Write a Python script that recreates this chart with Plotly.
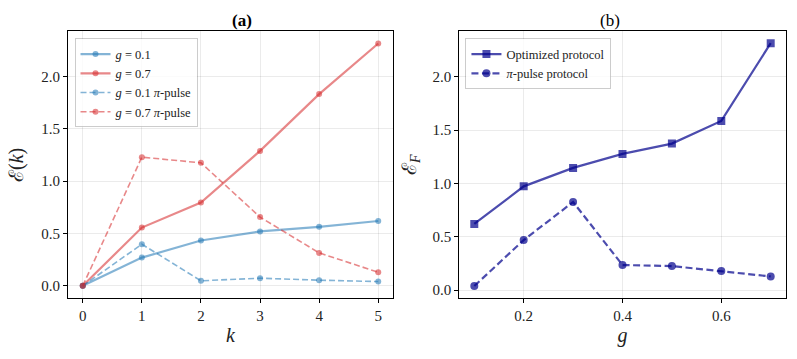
import plotly.graph_objects as go
from plotly.subplots import make_subplots

# panel (a): entanglement vs number of kicks
k = [0, 1, 2, 3, 4, 5]
e_g01 = [0.0, 0.27, 0.433, 0.52, 0.564, 0.62]
e_g07 = [0.0, 0.557, 0.797, 1.29, 1.833, 2.317]
e_g01_pi = [0.0, 0.398, 0.048, 0.073, 0.054, 0.041]
e_g07_pi = [0.0, 1.23, 1.176, 0.657, 0.315, 0.13]

# panel (b): final entanglement vs coupling
g = [0.1, 0.2, 0.3, 0.4, 0.5, 0.6, 0.7]
ef_opt = [0.62, 0.973, 1.146, 1.277, 1.374, 1.587, 2.316]
ef_pi = [0.038, 0.469, 0.826, 0.235, 0.225, 0.178, 0.128]

FONT = 'Liberation Serif'
BLUE = 'rgba(31,119,180,0.55)'
RED = 'rgba(214,39,40,0.55)'
NAVY = 'rgba(0,0,139,0.7)'

fig = make_subplots(rows=1, cols=2)

left = [
    (e_g01, BLUE, 'solid', 2.2, '<i>g</i> = 0.1'),
    (e_g07, RED, 'solid', 2.2, '<i>g</i> = 0.7'),
    (e_g01_pi, BLUE, '6px,3px', 1.6, '<i>g</i> = 0.1 <i>π</i>-pulse'),
    (e_g07_pi, RED, '6px,3px', 1.6, '<i>g</i> = 0.7 <i>π</i>-pulse'),
]
for y, c, dash, w, name in left:
    fig.add_trace(go.Scatter(
        x=k, y=y, mode='lines+markers', name=name,
        line=dict(color=c, width=w, dash=dash),
        marker=dict(color=c, size=6, symbol='circle'),
        legend='legend',
    ), row=1, col=1)

fig.add_trace(go.Scatter(
    x=g, y=ef_opt, mode='lines+markers', name='Optimized protocol',
    line=dict(color=NAVY, width=2.2),
    marker=dict(color=NAVY, size=8, symbol='square'),
    legend='legend2',
), row=1, col=2)
fig.add_trace(go.Scatter(
    x=g, y=ef_pi, mode='lines+markers', name='<i>π</i>-pulse protocol',
    line=dict(color=NAVY, width=2.2, dash='7px,3.5px'),
    marker=dict(color=NAVY, size=8, symbol='circle'),
    legend='legend2',
), row=1, col=2)

ax_common = dict(
    showline=True, linecolor='black', linewidth=1.2, mirror=True,
    ticks='outside', ticklen=4, tickwidth=1, tickcolor='black',
    showgrid=True, gridcolor='rgba(0,0,0,0.08)', gridwidth=1,
    zeroline=False, tickfont=dict(size=15, family=FONT, color='#222'),
    automargin=False,
)

fig.update_xaxes(ax_common)
fig.update_yaxes(ax_common)

fig.update_xaxes(domain=[0.0853, 0.4931], range=[-0.25, 5.25], tickvals=[0, 1, 2, 3, 4, 5],
                 title=dict(text='<i>k</i>', font=dict(size=20, family=FONT), standoff=4), row=1, col=1)
fig.update_yaxes(domain=[0.17, 0.9136], range=[-0.116, 2.436], tickvals=[0, 0.5, 1.0, 1.5, 2.0],
                 tickformat='.1f', row=1, col=1)
fig.update_xaxes(domain=[0.5765, 0.9856], range=[0.07, 0.73], tickvals=[0.2, 0.4, 0.6],
                 tickformat='.1f',
                 title=dict(text='<i>g</i>', font=dict(size=20, family=FONT), standoff=4), row=1, col=2)
fig.update_yaxes(domain=[0.17, 0.9136], range=[-0.074, 2.43], tickvals=[0, 0.5, 1.0, 1.5, 2.0],
                 tickformat='.1f', row=1, col=2)

title_font = dict(size=20, family=FONT, color='#222')
fig.update_layout(
    width=797, height=359,
    plot_bgcolor='white', paper_bgcolor='white',
    font=dict(family=FONT, size=12, color='#222'),
    margin=dict(l=0, r=0, t=0, b=0, autoexpand=False),
    showlegend=True,
    legend=dict(
        x=0.0935, y=0.893, xanchor='left', yanchor='top',
        bgcolor='rgba(255,255,255,0.8)', bordercolor='rgba(0,0,0,0.2)', borderwidth=1,
        font=dict(size=12.5, family=FONT), tracegroupgap=0, itemwidth=30,
    ),
    legend2=dict(
        x=0.584, y=0.893, xanchor='left', yanchor='top',
        bgcolor='rgba(255,255,255,0.8)', bordercolor='rgba(0,0,0,0.2)', borderwidth=1,
        font=dict(size=12.5, family=FONT), tracegroupgap=0, itemwidth=30,
    ),
    annotations=[
        dict(text='<b>(a)</b>', x=0.2892, y=1 - 20 / 359, xref='paper', yref='paper',
             showarrow=False, font=dict(size=17, family=FONT, color='black'), yanchor='middle'),
        dict(text='(b)', x=0.781, y=1 - 20 / 359, xref='paper', yref='paper',
             showarrow=False, font=dict(size=17, family=FONT, color='black'), yanchor='middle'),
        # y-axis titles placed by hand, rotated like matplotlib's
        dict(text='ℰ(<i>k</i>)', x=17 / 797, y=1 - 165 / 359, xref='paper', yref='paper',
             showarrow=False, textangle=-90, font=title_font, xanchor='center', yanchor='middle'),
        dict(text='ℰ<sub><i>F</i></sub>', x=411 / 797, y=1 - 165 / 359, xref='paper', yref='paper',
             showarrow=False, textangle=-90, font=title_font, xanchor='center', yanchor='middle'),
    ],
)

# drop the browser's default body margin so the figure sits at the page origin
fig.write_html('out.html', config={'displayModeBar': False},
               post_script="document.body.style.margin='0';")
